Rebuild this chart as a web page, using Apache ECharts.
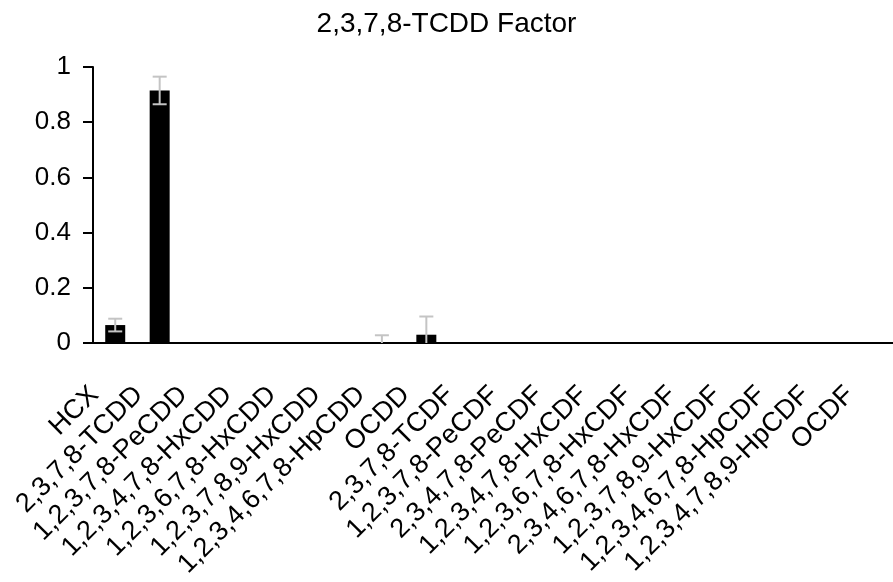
<!DOCTYPE html>
<html>
<head>
<meta charset="utf-8">
<script src="https://cdn.jsdelivr.net/npm/echarts@6/dist/echarts.min.js"></script>
<style>
  html, body { margin: 0; padding: 0; background: #fff; }
  #chart { width: 893px; height: 582px; }
</style>
</head>
<body>
<div id="chart"></div>
<script>
const categories = [
  'HCX', '2,3,7,8-TCDD', '1,2,3,7,8-PeCDD', '1,2,3,4,7,8-HxCDD', '1,2,3,6,7,8-HxCDD',
  '1,2,3,7,8,9-HxCDD', '1,2,3,4,6,7,8-HpCDD', 'OCDD', '2,3,7,8-TCDF', '1,2,3,7,8-PeCDF',
  '2,3,4,7,8-PeCDF', '1,2,3,4,7,8-HxCDF', '1,2,3,6,7,8-HxCDF', '2,3,4,6,7,8-HxCDF',
  '1,2,3,7,8,9-HxCDF', '1,2,3,4,6,7,8-HpCDF', '1,2,3,4,7,8,9-HpCDF', 'OCDF'
]
const factorValues = [0.065, 0.915, 0, 0, 0, 0, 0, 0.03, 0, 0, 0, 0, 0, 0, 0, 0, 0, 0]
const factorErrors = [0.023, 0.05, 0, 0, 0, 0, 0.028, 0.066, 0, 0, 0, 0, 0, 0, 0, 0, 0, 0]
const yTicks = [0, 0.2, 0.4, 0.6, 0.8, 1]

const font = "'Liberation Sans', Arial, sans-serif"

// error bar rows: [index, low, high], only where an error is shown
const errorRows = []
factorErrors.forEach((e, i) => {
  if (e > 0) errorRows.push([i, factorValues[i] - e, factorValues[i] + e])
})

const chart = echarts.init(document.getElementById('chart'))

function renderError(params, api) {
  const i = api.value(0)
  const top = api.coord([i, api.value(2)])
  const bottom = api.coord([i, api.value(1)])
  const half = 7
  const style = { stroke: '#c4c4c4', lineWidth: 2 }
  return {
    type: 'group',
    children: [
      { type: 'line', shape: { x1: top[0], y1: top[1], x2: bottom[0], y2: bottom[1] }, style },
      { type: 'line', shape: { x1: top[0] - half, y1: top[1], x2: top[0] + half, y2: top[1] }, style },
      { type: 'line', shape: { x1: bottom[0] - half, y1: bottom[1], x2: bottom[0] + half, y2: bottom[1] }, style },
    ],
  }
}

chart.setOption({
  animation: false,
  title: {
    text: '2,3,7,8-TCDD Factor',
    left: 'center',
    top: 5,
    textStyle: { fontFamily: font, fontSize: 28, fontWeight: 'normal', color: '#000' },
  },
  grid: { left: 93, right: -6, top: 67, bottom: 239, containLabel: false },
  xAxis: {
    type: 'category',
    data: categories,
    axisLine: { lineStyle: { color: '#000', width: 2 } },
    axisTick: { length: 8, lineStyle: { color: '#000', width: 2 } },
    axisLabel: {
      interval: 0,
      rotate: 45,
      margin: 46,
      verticalAlign: 'bottom',
      padding: [0, 16, 0, 0],
      fontFamily: font,
      fontSize: 27,
      color: '#000',
    },
  },
  yAxis: {
    type: 'value',
    min: yTicks[0],
    max: yTicks[yTicks.length - 1],
    interval: 0.2,
    splitLine: { show: false },
    axisLine: { show: true, lineStyle: { color: '#000', width: 2 } },
    axisTick: { show: true, length: 10, lineStyle: { color: '#000', width: 2 } },
    axisLabel: { margin: 22, fontFamily: font, fontSize: 26, color: '#000' },
  },
  series: [
    {
      type: 'bar',
      data: factorValues,
      barWidth: 20,
      itemStyle: { color: '#000' },
      z: 2,
    },
    {
      type: 'custom',
      data: errorRows,
      renderItem: renderError,
      clip: true,
      z: 3,
    },
  ],
})
</script>
</body>
</html>
